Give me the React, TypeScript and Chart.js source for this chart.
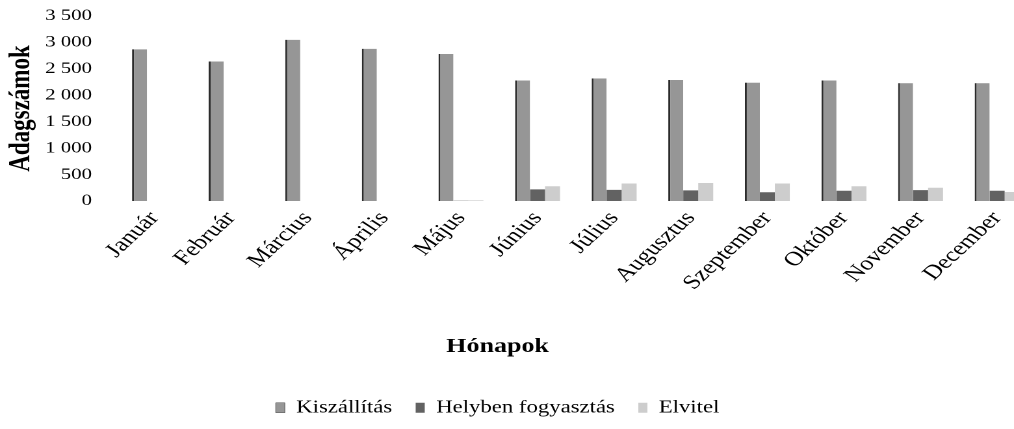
import { useEffect, useRef } from 'react';
import { Chart, registerables } from 'chart.js';

Chart.register(...registerables);

const months = ['Január', 'Február', 'Március', 'Április', 'Május', 'Június', 'Július', 'Augusztus', 'Szeptember', 'Október', 'November', 'December'];
const seriesNames = ['Kiszállítás', 'Helyben fogyasztás', 'Elvitel'];
const kiszallitas = [2870, 2640, 3050, 2880, 2780, 2280, 2320, 2290, 2240, 2280, 2230, 2230];
const helyben = [0, 0, 0, 0, 5, 220, 210, 200, 165, 195, 205, 195];
const elvitel = [0, 0, 0, 0, 12, 280, 330, 340, 330, 280, 250, 170];
const yTickLabels = ['0', '500', '1 000', '1 500', '2 000', '2 500', '3 000', '3 500'];
const yAxisTitle = 'Adagszámok';
const xAxisTitle = 'Hónapok';

const SX = 1.3;
const W = 802;
const H = 429;
const FONT = '"Liberation Serif", "Times New Roman", serif';

export default function App() {
  const ref = useRef<HTMLCanvasElement>(null);
  useEffect(() => {
    const chart = new Chart(ref.current as HTMLCanvasElement, {
      type: 'bar',
      data: {
        labels: months,
        datasets: [
          { label: seriesNames[0], data: kiszallitas, backgroundColor: '#969696', borderColor: '#2b2b2b', borderWidth: { left: 1.5, top: 0, right: 0, bottom: 0 } as any },
          { label: seriesNames[1], data: helyben, backgroundColor: '#626262', borderWidth: 0 },
          { label: seriesNames[2], data: elvitel, backgroundColor: '#cdcdcd', borderWidth: 0 },
        ],
      },
      options: {
        animation: false,
        responsive: true,
        maintainAspectRatio: false,
        devicePixelRatio: 2,
        layout: { padding: { left: -31, right: 5.5, top: 16, bottom: 2.5 } },
        datasets: { bar: { categoryPercentage: 0.587, barPercentage: 1 } },
        scales: {
          x: {
            grid: { display: false, drawTicks: false },
            border: { display: false },
            ticks: { font: { family: FONT, size: 20 }, color: '#000', minRotation: 50, maxRotation: 50, padding: 6, autoSkip: false },
            afterFit: (s: any) => { s.height = 100; },
          },
          y: {
            min: 0,
            max: 3500,
            grid: { display: false, drawTicks: true, tickLength: 16 },
            border: { display: false },
            ticks: {
              stepSize: 500,
              font: { family: FONT, size: 16 },
              color: '#000',
              padding: 2.6,
              callback: (v: any) => yTickLabels[Math.round(Number(v) / 500)],
            },
            title: { display: true, text: yAxisTitle, font: { family: FONT, size: 23, weight: 'bold' }, color: '#000', padding: { top: 34, bottom: 0 } },
            afterFit: (s: any) => { s.width = 120.4; },
          },
        },
        plugins: {
          legend: { position: 'bottom', labels: { font: { family: FONT, size: 17.5 }, color: '#000', boxWidth: 7, boxHeight: 10, padding: 18 } },
          title: { display: true, text: xAxisTitle, position: 'bottom', weight: 500, font: { family: FONT, size: 20, weight: 'bold' }, color: '#000', padding: { top: 34, bottom: 22 } } as any,
          tooltip: { enabled: false },
        },
      },
    });
    return () => chart.destroy();
  }, []);
  return (
    <div style={{ position: 'fixed', left: 0, top: 0, width: 1014, height: 429, overflow: 'hidden', background: '#fff' }}>
      <div style={{ position: 'relative', width: W, height: H, transform: `scaleX(${SX})`, transformOrigin: '0 0' }}>
        <canvas ref={ref} />
      </div>
    </div>
  );
}
